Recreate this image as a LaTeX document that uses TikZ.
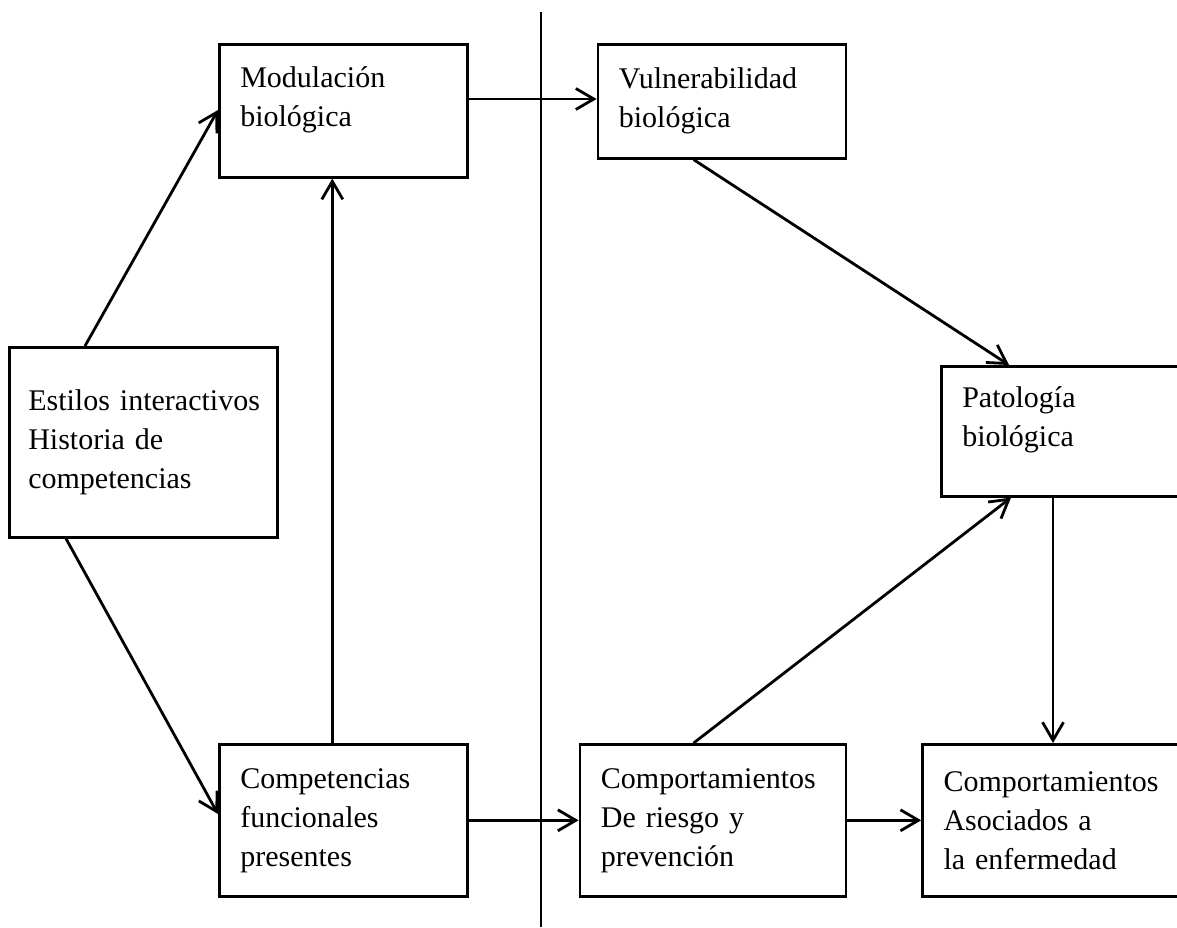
\documentclass[tikz,border=0pt]{standalone}
\usepackage{fontspec}
\setmainfont{Liberation Serif}
\usetikzlibrary{positioning, arrows.meta}
\hyphenpenalty=10000

\begin{document}
\begin{tikzpicture}[
    x=0.5pt, y=-0.5pt,
    >={Straight Barb[length=9pt, width=10.5pt]},
    block/.style={rectangle, draw, line width=1.3pt, align=left, inner xsep=10.5pt, inner ysep=0pt, anchor=north west, font=\fontsize{15}{19.5}\selectfont},
    link/.style={->, line width=1.4pt},
]
\clip (0,0) rectangle (1177,927);

\node [block, text width=103pt, minimum height=66.5pt] (modul) at (218,43) {Modulación\\biológica\\[-5pt]\mbox{}};
\node [block, text width=103pt, minimum height=57pt, right=64pt of modul.north east, anchor=north west] (vulner) {Vulnerabilidad\\biológica};
\node [block, text width=115pt, inner xsep=9.5pt, minimum height=95pt] (estil) at (8,346) {Estilos~interactivos\\Historia de\\competencias};
\node [block, text width=104pt, minimum height=65pt] (patol) at (940,365) {Patología\\biológica\\[-5pt]\mbox{}};

\node [block, text width=103pt, minimum height=76pt] (compet) at (218,743) {Competencias\\funcionales\\presentes};
\node [block, text width=112pt, minimum height=76pt, right=55pt of compet.north east, anchor=north west] (riesgo) {Comportamientos\\De riesgo y\\prevención};
\node [block, text width=109pt, minimum height=76pt, right=37pt of riesgo.north east, anchor=north west] (asoc) {Comportamientos\\Asociados a\\la enfermedad};

% divisoria
\coordinate (divtop) at (541,12);
\coordinate (divbot) at (541,927);
\draw [line width=1pt] (divtop) -- (divbot);

\draw [link] ([xshift=38.5pt]estil.north west) -- ([yshift=-33.5pt]modul.north west);
\draw [link] ([xshift=29pt]estil.south west) -- ([yshift=-35.5pt]compet.north west);
\draw [link] ([xshift=-5.5pt]compet.north) -- ([xshift=-5.5pt]modul.south);
\draw [link] ([yshift=-28pt]modul.north east) -- ([yshift=-28pt]vulner.north west);
\draw [link] ([xshift=48.5pt]vulner.south west) -- ([xshift=34.5pt]patol.north west);
\draw [link] ([xshift=57.5pt]riesgo.north west) -- ([xshift=35.5pt]patol.south west);
\draw [link] ([xshift=56.5pt]patol.south west) coordinate (pdrop) -- (pdrop |- asoc.north);
\draw [link] (compet) -- (riesgo);
\draw [link] (riesgo) -- (asoc);
\end{tikzpicture}
\end{document}
